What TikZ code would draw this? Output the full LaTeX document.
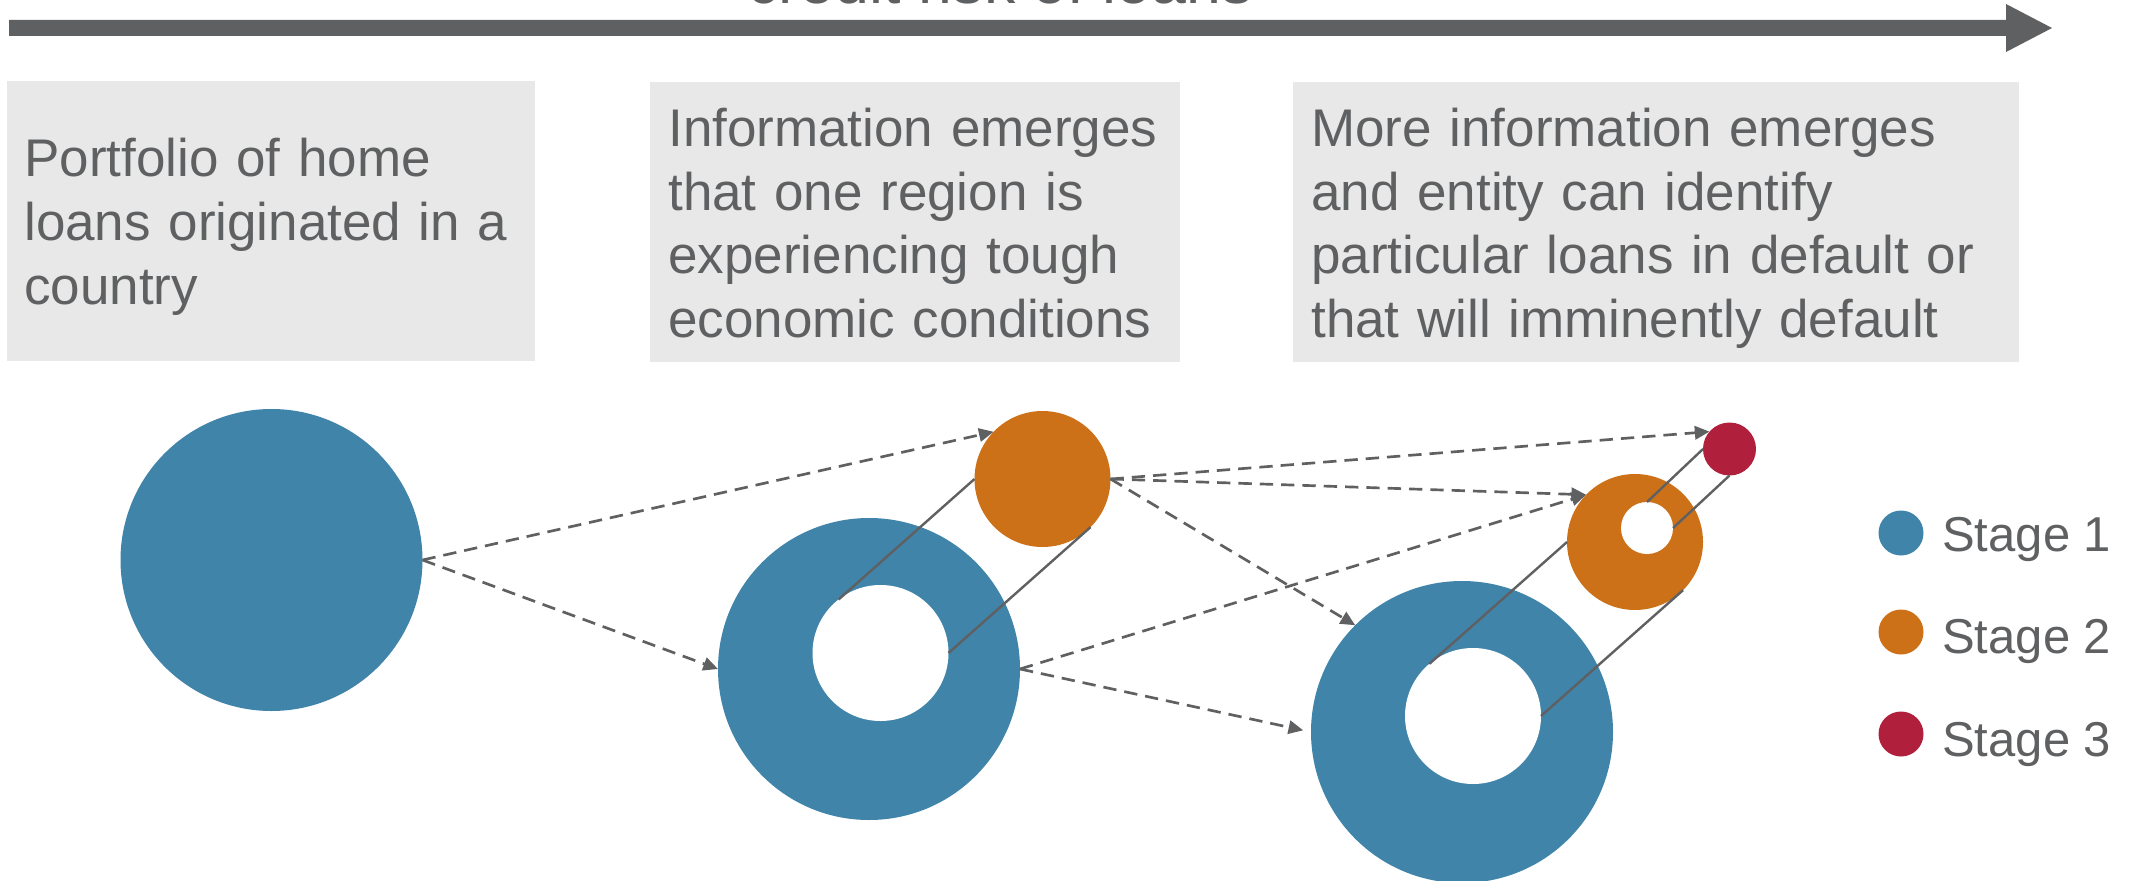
\documentclass[tikz,border=0pt]{standalone}
\usepackage{fontspec}
\setmainfont{Liberation Sans}
\usetikzlibrary{arrows.meta}
\definecolor{sblue}{HTML}{4184A9}
\definecolor{sorange}{HTML}{CD7119}
\definecolor{sred}{HTML}{B01F3B}
\definecolor{tgray}{HTML}{5F6062}
\definecolor{boxgray}{HTML}{E8E8E8}
\begin{document}
\begin{tikzpicture}[x=0.75pt,y=-0.75pt,
  disc/.style={circle,inner sep=0pt,outer sep=0pt,draw=none},
  hole/.style={disc,fill=white},
  flow/.style={draw=tgray,line width=2pt,dash pattern=on 10pt off 6pt,-{Triangle[length=11pt,width=10pt,fill=tgray]}},
  link/.style={draw=tgray,line width=1.8pt},
  boxbg/.style={rectangle,fill=boxgray,inner sep=0pt,outer sep=0pt,anchor=north west},
  boxtext/.style={anchor=base west,inner sep=0pt,text width=525pt,align=left,font=\fontsize{39.75}{48}\selectfont,text=tgray},
  legtext/.style={anchor=base west,inner sep=0pt,font=\fontsize{36.75}{44}\selectfont,text=tgray},
]
\path[use as bounding box] (0,0) rectangle (2131,881);
\clip (0,0) rectangle (2131,881);

% top arrow and title
\fill[tgray] (9,20) -- (2006,20) -- (2006,4) -- (2052,28) -- (2006,52) -- (2006,36) -- (9,36) -- cycle;
\node[anchor=base,inner sep=0pt,text=tgray,font=\fontsize{47}{56}\selectfont] (title) at (1000,4) {credit risk of loans};

% boxes
\node[boxbg,minimum width=528*0.75pt,minimum height=280*0.75pt] (box1) at (7,81) {};
\node[boxbg,minimum width=530*0.75pt,minimum height=280*0.75pt] (box2) at (650,82) {};
\node[boxbg,minimum width=726*0.75pt,minimum height=280*0.75pt] (box3) at (1293,82) {};
\node[boxtext] (t1) at (24,176) {Portfolio of home\\loans originated in a\\country};
\node[boxtext] (t2) at (668,146) {Information emerges\\that one region is\\experiencing tough\\economic conditions};
\node[boxtext] (t3) at (1311,146) {More information emerges\\and entity can identify\\particular loans in default or\\that will imminently default};

% circles
\node[disc,fill=sblue,minimum size=226.5pt] (b1) at (271.5,560) {};
\node[disc,fill=sblue,minimum size=226.5pt] (b2) at (869,669) {};
\node[hole,minimum size=102pt] (h2) at (880.5,653) {};
\node[disc,fill=sorange,minimum size=102pt] (o2) at (1042.5,479) {};
\node[disc,fill=sblue,minimum size=226.5pt] (b3) at (1462,732) {};
\node[hole,minimum size=102pt] (h3) at (1473,716) {};
\node[disc,fill=sorange,minimum size=102pt] (o3) at (1635,542) {};
\node[hole,minimum size=39pt] (oh3) at (1647,528) {};
\node[disc,fill=sred,minimum size=39.75pt] (r3) at (1729.5,449) {};

% zoom links
\draw[link] (h2.128) -- (o2.180);
\draw[link] (h2.0) -- (o2.-45);
\draw[link] (h3.130) -- (o3.180);
\draw[link] (h3.0) -- (o3.-45);
\draw[link] (oh3.90) -- (r3.180);
\draw[link] (oh3.0) -- (r3.270);

% flows
\draw[flow] (b1.east) -- (o2.136);
\draw[flow] (b1.east) -- (b2.west);
\draw[flow] (b2.east) -- (o3.136);
\draw[flow,shorten >=6pt] (b2.east) -- (b3.west);
\draw[flow] (o2.east) -- (r3.139);
\draw[flow] (o2.east) -- (o3.136);
\draw[flow] (o2.east) -- (b3.135);

% legend
\node[disc,fill=sblue,minimum size=33.75pt] (l1) at (1901,533) {};
\node[disc,fill=sorange,minimum size=33.75pt] (l2) at (1901,632) {};
\node[disc,fill=sred,minimum size=33.75pt] (l3) at (1901,734) {};
\node[legtext] (s1) at (1942,551) {Stage 1};
\node[legtext] (s2) at (1942,653) {Stage 2};
\node[legtext] (s3) at (1942,756) {Stage 3};
\end{tikzpicture}
\end{document}
